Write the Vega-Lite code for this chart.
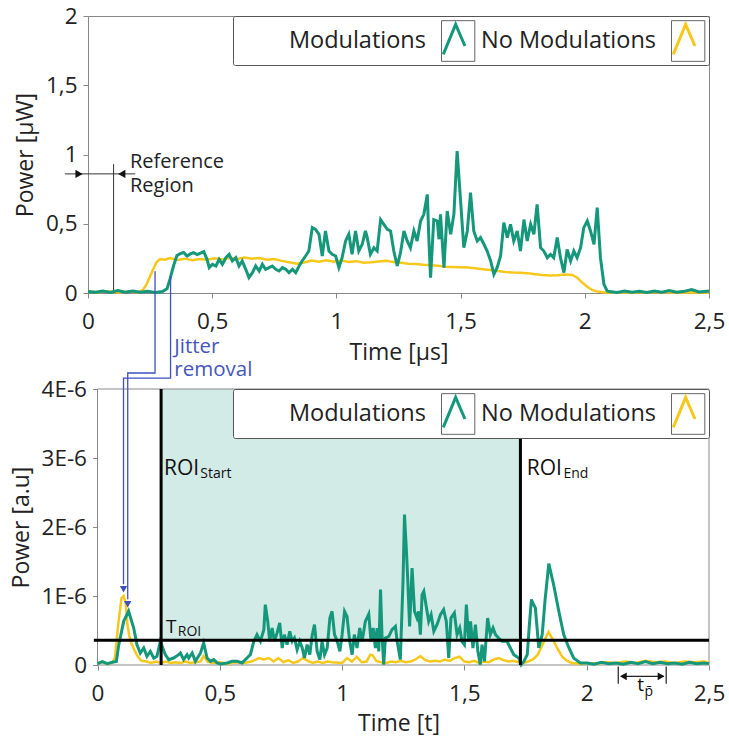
{
"$schema": "https://vega.github.io/schema/vega-lite/v6.json",
"padding": {"left": 10, "top": 4, "right": 0, "bottom": 0},
"bounds": "flush",
"spacing": 96,
"resolve": {"scale": {"color": "independent", "x": "independent", "y": "independent"}, "legend": {"color": "independent"}},
"config": {
  "font": "Open Sans",
  "view": {"stroke": "#888", "strokeWidth": 1},
  "axis": {"grid": false, "domainColor": "#888", "tickColor": "#888", "tickSize": 5, "labelFontSize": 22.5, "labelColor": "#222", "titleFontSize": 23, "titleFontWeight": "normal", "titleColor": "#222", "labelFont": "Open Sans", "titleFont": "Open Sans", "labelOverlap": false},
  "axisX": {"labelPadding": 12, "titlePadding": 9, "labelFlush": false},
  "axisY": {"labelPadding": 6, "titlePadding": 8},
  "text": {"font": "Open Sans"}
},
"datasets": {
  "top": [
{"s":"No Modulations","t":0,"p":0.01},{"s":"No Modulations","t":0.04,"p":0.005},{"s":"No Modulations","t":0.08,"p":0.012},{"s":"No Modulations","t":0.12,"p":0.004},{"s":"No Modulations","t":0.16,"p":0.01},{"s":"No Modulations","t":0.2,"p":0.006},{"s":"No Modulations","t":0.22,"p":0.02},{"s":"No Modulations","t":0.235,"p":0.06},{"s":"No Modulations","t":0.25,"p":0.12},{"s":"No Modulations","t":0.262,"p":0.17},{"s":"No Modulations","t":0.275,"p":0.22},{"s":"No Modulations","t":0.29,"p":0.245},{"s":"No Modulations","t":0.31,"p":0.24},{"s":"No Modulations","t":0.33,"p":0.252},{"s":"No Modulations","t":0.36,"p":0.238},{"s":"No Modulations","t":0.39,"p":0.248},{"s":"No Modulations","t":0.42,"p":0.236},{"s":"No Modulations","t":0.45,"p":0.246},{"s":"No Modulations","t":0.48,"p":0.24},{"s":"No Modulations","t":0.51,"p":0.25},{"s":"No Modulations","t":0.54,"p":0.242},{"s":"No Modulations","t":0.57,"p":0.252},{"s":"No Modulations","t":0.6,"p":0.245},{"s":"No Modulations","t":0.63,"p":0.256},{"s":"No Modulations","t":0.66,"p":0.248},{"s":"No Modulations","t":0.69,"p":0.252},{"s":"No Modulations","t":0.72,"p":0.24},{"s":"No Modulations","t":0.75,"p":0.245},{"s":"No Modulations","t":0.78,"p":0.232},{"s":"No Modulations","t":0.81,"p":0.222},{"s":"No Modulations","t":0.84,"p":0.212},{"s":"No Modulations","t":0.87,"p":0.22},{"s":"No Modulations","t":0.9,"p":0.234},{"s":"No Modulations","t":0.93,"p":0.226},{"s":"No Modulations","t":0.96,"p":0.236},{"s":"No Modulations","t":0.99,"p":0.226},{"s":"No Modulations","t":1.02,"p":0.234},{"s":"No Modulations","t":1.05,"p":0.224},{"s":"No Modulations","t":1.08,"p":0.23},{"s":"No Modulations","t":1.11,"p":0.218},{"s":"No Modulations","t":1.14,"p":0.222},{"s":"No Modulations","t":1.17,"p":0.228},{"s":"No Modulations","t":1.2,"p":0.232},{"s":"No Modulations","t":1.23,"p":0.224},{"s":"No Modulations","t":1.26,"p":0.218},{"s":"No Modulations","t":1.29,"p":0.212},{"s":"No Modulations","t":1.32,"p":0.21},{"s":"No Modulations","t":1.35,"p":0.204},{"s":"No Modulations","t":1.38,"p":0.2},{"s":"No Modulations","t":1.41,"p":0.196},{"s":"No Modulations","t":1.44,"p":0.19},{"s":"No Modulations","t":1.47,"p":0.188},{"s":"No Modulations","t":1.5,"p":0.186},{"s":"No Modulations","t":1.53,"p":0.184},{"s":"No Modulations","t":1.56,"p":0.178},{"s":"No Modulations","t":1.59,"p":0.172},{"s":"No Modulations","t":1.62,"p":0.166},{"s":"No Modulations","t":1.65,"p":0.158},{"s":"No Modulations","t":1.68,"p":0.152},{"s":"No Modulations","t":1.71,"p":0.148},{"s":"No Modulations","t":1.74,"p":0.146},{"s":"No Modulations","t":1.77,"p":0.142},{"s":"No Modulations","t":1.8,"p":0.136},{"s":"No Modulations","t":1.83,"p":0.13},{"s":"No Modulations","t":1.86,"p":0.126},{"s":"No Modulations","t":1.89,"p":0.128},{"s":"No Modulations","t":1.92,"p":0.134},{"s":"No Modulations","t":1.95,"p":0.13},{"s":"No Modulations","t":1.97,"p":0.11},{"s":"No Modulations","t":1.99,"p":0.075},{"s":"No Modulations","t":2.01,"p":0.045},{"s":"No Modulations","t":2.03,"p":0.022},{"s":"No Modulations","t":2.05,"p":0.01},{"s":"No Modulations","t":2.08,"p":0.004},{"s":"No Modulations","t":2.12,"p":0.006},{"s":"No Modulations","t":2.2,"p":0.003},{"s":"No Modulations","t":2.28,"p":0.007},{"s":"No Modulations","t":2.36,"p":0.004},{"s":"No Modulations","t":2.44,"p":0.006},{"s":"No Modulations","t":2.5,"p":0.004},
{"s":"Modulations","t":0,"p":0.01},{"s":"Modulations","t":0.03,"p":0.005},{"s":"Modulations","t":0.06,"p":0.015},{"s":"Modulations","t":0.09,"p":0.004},{"s":"Modulations","t":0.12,"p":0.018},{"s":"Modulations","t":0.15,"p":0.006},{"s":"Modulations","t":0.18,"p":0.014},{"s":"Modulations","t":0.21,"p":0.005},{"s":"Modulations","t":0.24,"p":0.012},{"s":"Modulations","t":0.27,"p":0.004},{"s":"Modulations","t":0.3,"p":0.01},{"s":"Modulations","t":0.318,"p":0.03},{"s":"Modulations","t":0.33,"p":0.1},{"s":"Modulations","t":0.345,"p":0.2},{"s":"Modulations","t":0.358,"p":0.27},{"s":"Modulations","t":0.372,"p":0.285},{"s":"Modulations","t":0.385,"p":0.292},{"s":"Modulations","t":0.399,"p":0.267},{"s":"Modulations","t":0.412,"p":0.282},{"s":"Modulations","t":0.425,"p":0.292},{"s":"Modulations","t":0.44,"p":0.278},{"s":"Modulations","t":0.455,"p":0.29},{"s":"Modulations","t":0.466,"p":0.3},{"s":"Modulations","t":0.479,"p":0.243},{"s":"Modulations","t":0.488,"p":0.183},{"s":"Modulations","t":0.501,"p":0.207},{"s":"Modulations","t":0.515,"p":0.195},{"s":"Modulations","t":0.528,"p":0.243},{"s":"Modulations","t":0.541,"p":0.207},{"s":"Modulations","t":0.555,"p":0.255},{"s":"Modulations","t":0.568,"p":0.279},{"s":"Modulations","t":0.581,"p":0.231},{"s":"Modulations","t":0.595,"p":0.255},{"s":"Modulations","t":0.608,"p":0.195},{"s":"Modulations","t":0.621,"p":0.231},{"s":"Modulations","t":0.635,"p":0.171},{"s":"Modulations","t":0.648,"p":0.111},{"s":"Modulations","t":0.662,"p":0.147},{"s":"Modulations","t":0.675,"p":0.195},{"s":"Modulations","t":0.689,"p":0.159},{"s":"Modulations","t":0.702,"p":0.207},{"s":"Modulations","t":0.715,"p":0.171},{"s":"Modulations","t":0.729,"p":0.183},{"s":"Modulations","t":0.742,"p":0.195},{"s":"Modulations","t":0.756,"p":0.171},{"s":"Modulations","t":0.769,"p":0.159},{"s":"Modulations","t":0.783,"p":0.183},{"s":"Modulations","t":0.796,"p":0.171},{"s":"Modulations","t":0.809,"p":0.147},{"s":"Modulations","t":0.823,"p":0.171},{"s":"Modulations","t":0.836,"p":0.147},{"s":"Modulations","t":0.85,"p":0.195},{"s":"Modulations","t":0.862,"p":0.231},{"s":"Modulations","t":0.876,"p":0.267},{"s":"Modulations","t":0.889,"p":0.303},{"s":"Modulations","t":0.903,"p":0.472},{"s":"Modulations","t":0.916,"p":0.46},{"s":"Modulations","t":0.93,"p":0.424},{"s":"Modulations","t":0.943,"p":0.267},{"s":"Modulations","t":0.956,"p":0.448},{"s":"Modulations","t":0.97,"p":0.303},{"s":"Modulations","t":0.983,"p":0.279},{"s":"Modulations","t":0.997,"p":0.267},{"s":"Modulations","t":1.01,"p":0.183},{"s":"Modulations","t":1.023,"p":0.255},{"s":"Modulations","t":1.037,"p":0.376},{"s":"Modulations","t":1.05,"p":0.424},{"s":"Modulations","t":1.063,"p":0.279},{"s":"Modulations","t":1.077,"p":0.448},{"s":"Modulations","t":1.09,"p":0.303},{"s":"Modulations","t":1.104,"p":0.352},{"s":"Modulations","t":1.117,"p":0.448},{"s":"Modulations","t":1.124,"p":0.4},{"s":"Modulations","t":1.137,"p":0.279},{"s":"Modulations","t":1.151,"p":0.327},{"s":"Modulations","t":1.164,"p":0.303},{"s":"Modulations","t":1.178,"p":0.53},{"s":"Modulations","t":1.191,"p":0.496},{"s":"Modulations","t":1.205,"p":0.46},{"s":"Modulations","t":1.218,"p":0.448},{"s":"Modulations","t":1.231,"p":0.303},{"s":"Modulations","t":1.245,"p":0.195},{"s":"Modulations","t":1.258,"p":0.291},{"s":"Modulations","t":1.272,"p":0.448},{"s":"Modulations","t":1.285,"p":0.376},{"s":"Modulations","t":1.298,"p":0.327},{"s":"Modulations","t":1.312,"p":0.448},{"s":"Modulations","t":1.325,"p":0.376},{"s":"Modulations","t":1.339,"p":0.52},{"s":"Modulations","t":1.352,"p":0.568},{"s":"Modulations","t":1.366,"p":0.712},{"s":"Modulations","t":1.372,"p":0.4},{"s":"Modulations","t":1.379,"p":0.111},{"s":"Modulations","t":1.392,"p":0.53},{"s":"Modulations","t":1.406,"p":0.52},{"s":"Modulations","t":1.413,"p":0.388},{"s":"Modulations","t":1.419,"p":0.568},{"s":"Modulations","t":1.433,"p":0.183},{"s":"Modulations","t":1.446,"p":0.592},{"s":"Modulations","t":1.46,"p":0.424},{"s":"Modulations","t":1.473,"p":0.568},{"s":"Modulations","t":1.486,"p":1.025},{"s":"Modulations","t":1.5,"p":0.664},{"s":"Modulations","t":1.513,"p":0.327},{"s":"Modulations","t":1.527,"p":0.448},{"s":"Modulations","t":1.54,"p":0.724},{"s":"Modulations","t":1.553,"p":0.448},{"s":"Modulations","t":1.567,"p":0.376},{"s":"Modulations","t":1.58,"p":0.4},{"s":"Modulations","t":1.594,"p":0.352},{"s":"Modulations","t":1.607,"p":0.303},{"s":"Modulations","t":1.621,"p":0.231},{"s":"Modulations","t":1.634,"p":0.135},{"s":"Modulations","t":1.647,"p":0.183},{"s":"Modulations","t":1.661,"p":0.267},{"s":"Modulations","t":1.674,"p":0.508},{"s":"Modulations","t":1.688,"p":0.4},{"s":"Modulations","t":1.701,"p":0.496},{"s":"Modulations","t":1.714,"p":0.376},{"s":"Modulations","t":1.728,"p":0.448},{"s":"Modulations","t":1.741,"p":0.303},{"s":"Modulations","t":1.755,"p":0.53},{"s":"Modulations","t":1.768,"p":0.376},{"s":"Modulations","t":1.782,"p":0.496},{"s":"Modulations","t":1.795,"p":0.424},{"s":"Modulations","t":1.808,"p":0.64},{"s":"Modulations","t":1.822,"p":0.327},{"s":"Modulations","t":1.835,"p":0.303},{"s":"Modulations","t":1.849,"p":0.255},{"s":"Modulations","t":1.862,"p":0.279},{"s":"Modulations","t":1.875,"p":0.255},{"s":"Modulations","t":1.889,"p":0.4},{"s":"Modulations","t":1.902,"p":0.255},{"s":"Modulations","t":1.916,"p":0.147},{"s":"Modulations","t":1.929,"p":0.315},{"s":"Modulations","t":1.943,"p":0.231},{"s":"Modulations","t":1.956,"p":0.303},{"s":"Modulations","t":1.969,"p":0.255},{"s":"Modulations","t":1.983,"p":0.327},{"s":"Modulations","t":1.996,"p":0.472},{"s":"Modulations","t":2.01,"p":0.52},{"s":"Modulations","t":2.023,"p":0.448},{"s":"Modulations","t":2.037,"p":0.352},{"s":"Modulations","t":2.05,"p":0.616},{"s":"Modulations","t":2.063,"p":0.255},{"s":"Modulations","t":2.077,"p":0.063},{"s":"Modulations","t":2.09,"p":0.015},{"s":"Modulations","t":2.1,"p":0.01},{"s":"Modulations","t":2.13,"p":0.004},{"s":"Modulations","t":2.16,"p":0.015},{"s":"Modulations","t":2.19,"p":0.005},{"s":"Modulations","t":2.22,"p":0.012},{"s":"Modulations","t":2.25,"p":0.004},{"s":"Modulations","t":2.28,"p":0.015},{"s":"Modulations","t":2.31,"p":0.006},{"s":"Modulations","t":2.34,"p":0.018},{"s":"Modulations","t":2.37,"p":0.005},{"s":"Modulations","t":2.4,"p":0.012},{"s":"Modulations","t":2.43,"p":0.025},{"s":"Modulations","t":2.46,"p":0.008},{"s":"Modulations","t":2.5,"p":0.015}
  ],
  "bottom": [
{"s":"No Modulations","t":0,"p":0.03e-6},{"s":"No Modulations","t":0.02,"p":0.04e-6},{"s":"No Modulations","t":0.04,"p":0.02e-6},{"s":"No Modulations","t":0.06,"p":0.03e-6},{"s":"No Modulations","t":0.071,"p":0.1e-6},{"s":"No Modulations","t":0.085,"p":0.6e-6},{"s":"No Modulations","t":0.098,"p":0.97e-6},{"s":"No Modulations","t":0.107,"p":1.0e-6},{"s":"No Modulations","t":0.115,"p":0.9e-6},{"s":"No Modulations","t":0.122,"p":0.6e-6},{"s":"No Modulations","t":0.13,"p":0.42e-6},{"s":"No Modulations","t":0.14,"p":0.3e-6},{"s":"No Modulations","t":0.15,"p":0.22e-6},{"s":"No Modulations","t":0.16,"p":0.15e-6},{"s":"No Modulations","t":0.17,"p":0.1e-6},{"s":"No Modulations","t":0.18,"p":0.06e-6},{"s":"No Modulations","t":0.2,"p":0.05e-6},{"s":"No Modulations","t":0.22,"p":0.03e-6},{"s":"No Modulations","t":0.24,"p":0.05e-6},{"s":"No Modulations","t":0.26,"p":0.03e-6},{"s":"No Modulations","t":0.28,"p":0.05e-6},{"s":"No Modulations","t":0.3,"p":0.03e-6},{"s":"No Modulations","t":0.32,"p":0.04e-6},{"s":"No Modulations","t":0.34,"p":0.03e-6},{"s":"No Modulations","t":0.36,"p":0.05e-6},{"s":"No Modulations","t":0.38,"p":0.03e-6},{"s":"No Modulations","t":0.4,"p":0.04e-6},{"s":"No Modulations","t":0.42,"p":0.05e-6},{"s":"No Modulations","t":0.434,"p":0.13e-6},{"s":"No Modulations","t":0.45,"p":0.05e-6},{"s":"No Modulations","t":0.47,"p":0.03e-6},{"s":"No Modulations","t":0.5,"p":0.04e-6},{"s":"No Modulations","t":0.53,"p":0.02e-6},{"s":"No Modulations","t":0.56,"p":0.04e-6},{"s":"No Modulations","t":0.6,"p":0.03e-6},{"s":"No Modulations","t":0.63,"p":0.05e-6},{"s":"No Modulations","t":0.66,"p":0.1e-6},{"s":"No Modulations","t":0.68,"p":0.08e-6},{"s":"No Modulations","t":0.7,"p":0.1e-6},{"s":"No Modulations","t":0.72,"p":0.05e-6},{"s":"No Modulations","t":0.74,"p":0.1e-6},{"s":"No Modulations","t":0.76,"p":0.04e-6},{"s":"No Modulations","t":0.78,"p":0.07e-6},{"s":"No Modulations","t":0.8,"p":0.03e-6},{"s":"No Modulations","t":0.82,"p":0.05e-6},{"s":"No Modulations","t":0.84,"p":0.1e-6},{"s":"No Modulations","t":0.86,"p":0.06e-6},{"s":"No Modulations","t":0.88,"p":0.03e-6},{"s":"No Modulations","t":0.9,"p":0.05e-6},{"s":"No Modulations","t":0.92,"p":0.03e-6},{"s":"No Modulations","t":0.94,"p":0.05e-6},{"s":"No Modulations","t":0.96,"p":0.04e-6},{"s":"No Modulations","t":1.0,"p":0.03e-6},{"s":"No Modulations","t":1.02,"p":0.1e-6},{"s":"No Modulations","t":1.04,"p":0.05e-6},{"s":"No Modulations","t":1.06,"p":0.12e-6},{"s":"No Modulations","t":1.08,"p":0.04e-6},{"s":"No Modulations","t":1.1,"p":0.05e-6},{"s":"No Modulations","t":1.115,"p":0.15e-6},{"s":"No Modulations","t":1.125,"p":0.14e-6},{"s":"No Modulations","t":1.14,"p":0.06e-6},{"s":"No Modulations","t":1.16,"p":0.04e-6},{"s":"No Modulations","t":1.18,"p":0.03e-6},{"s":"No Modulations","t":1.2,"p":0.05e-6},{"s":"No Modulations","t":1.22,"p":0.04e-6},{"s":"No Modulations","t":1.24,"p":0.06e-6},{"s":"No Modulations","t":1.26,"p":0.04e-6},{"s":"No Modulations","t":1.28,"p":0.05e-6},{"s":"No Modulations","t":1.3,"p":0.08e-6},{"s":"No Modulations","t":1.32,"p":0.13e-6},{"s":"No Modulations","t":1.34,"p":0.07e-6},{"s":"No Modulations","t":1.36,"p":0.05e-6},{"s":"No Modulations","t":1.38,"p":0.06e-6},{"s":"No Modulations","t":1.4,"p":0.05e-6},{"s":"No Modulations","t":1.42,"p":0.08e-6},{"s":"No Modulations","t":1.44,"p":0.06e-6},{"s":"No Modulations","t":1.46,"p":0.1e-6},{"s":"No Modulations","t":1.48,"p":0.12e-6},{"s":"No Modulations","t":1.5,"p":0.05e-6},{"s":"No Modulations","t":1.52,"p":0.04e-6},{"s":"No Modulations","t":1.54,"p":0.06e-6},{"s":"No Modulations","t":1.56,"p":0.03e-6},{"s":"No Modulations","t":1.58,"p":0.05e-6},{"s":"No Modulations","t":1.6,"p":0.04e-6},{"s":"No Modulations","t":1.62,"p":0.08e-6},{"s":"No Modulations","t":1.64,"p":0.1e-6},{"s":"No Modulations","t":1.66,"p":0.07e-6},{"s":"No Modulations","t":1.68,"p":0.05e-6},{"s":"No Modulations","t":1.7,"p":0.06e-6},{"s":"No Modulations","t":1.72,"p":0.04e-6},{"s":"No Modulations","t":1.74,"p":0.03e-6},{"s":"No Modulations","t":1.76,"p":0.05e-6},{"s":"No Modulations","t":1.78,"p":0.08e-6},{"s":"No Modulations","t":1.8,"p":0.15e-6},{"s":"No Modulations","t":1.82,"p":0.3e-6},{"s":"No Modulations","t":1.844,"p":0.48e-6},{"s":"No Modulations","t":1.86,"p":0.38e-6},{"s":"No Modulations","t":1.88,"p":0.24e-6},{"s":"No Modulations","t":1.9,"p":0.12e-6},{"s":"No Modulations","t":1.92,"p":0.06e-6},{"s":"No Modulations","t":1.94,"p":0.03e-6},{"s":"No Modulations","t":1.97,"p":0.02e-6},{"s":"No Modulations","t":2.0,"p":0.03e-6},{"s":"No Modulations","t":2.04,"p":0.02e-6},{"s":"No Modulations","t":2.08,"p":0.04e-6},{"s":"No Modulations","t":2.12,"p":0.03e-6},{"s":"No Modulations","t":2.16,"p":0.05e-6},{"s":"No Modulations","t":2.2,"p":0.03e-6},{"s":"No Modulations","t":2.24,"p":0.06e-6},{"s":"No Modulations","t":2.28,"p":0.04e-6},{"s":"No Modulations","t":2.32,"p":0.05e-6},{"s":"No Modulations","t":2.36,"p":0.03e-6},{"s":"No Modulations","t":2.4,"p":0.05e-6},{"s":"No Modulations","t":2.44,"p":0.04e-6},{"s":"No Modulations","t":2.48,"p":0.05e-6},{"s":"No Modulations","t":2.5,"p":0.03e-6},
{"s":"Modulations","t":0,"p":0.02e-6},{"s":"Modulations","t":0.02,"p":0.05e-6},{"s":"Modulations","t":0.04,"p":0.02e-6},{"s":"Modulations","t":0.06,"p":0.04e-6},{"s":"Modulations","t":0.077,"p":0.05e-6},{"s":"Modulations","t":0.087,"p":0.295e-6},{"s":"Modulations","t":0.107,"p":0.633e-6},{"s":"Modulations","t":0.127,"p":0.78e-6},{"s":"Modulations","t":0.148,"p":0.536e-6},{"s":"Modulations","t":0.161,"p":0.295e-6},{"s":"Modulations","t":0.175,"p":0.174e-6},{"s":"Modulations","t":0.189,"p":0.247e-6},{"s":"Modulations","t":0.202,"p":0.126e-6},{"s":"Modulations","t":0.216,"p":0.198e-6},{"s":"Modulations","t":0.23,"p":0.1e-6},{"s":"Modulations","t":0.243,"p":0.126e-6},{"s":"Modulations","t":0.257,"p":0.343e-6},{"s":"Modulations","t":0.277,"p":0.15e-6},{"s":"Modulations","t":0.291,"p":0.078e-6},{"s":"Modulations","t":0.311,"p":0.101e-6},{"s":"Modulations","t":0.332,"p":0.15e-6},{"s":"Modulations","t":0.339,"p":0.174e-6},{"s":"Modulations","t":0.352,"p":0.078e-6},{"s":"Modulations","t":0.366,"p":0.15e-6},{"s":"Modulations","t":0.373,"p":0.101e-6},{"s":"Modulations","t":0.387,"p":0.174e-6},{"s":"Modulations","t":0.4,"p":0.053e-6},{"s":"Modulations","t":0.421,"p":0.174e-6},{"s":"Modulations","t":0.434,"p":0.319e-6},{"s":"Modulations","t":0.448,"p":0.101e-6},{"s":"Modulations","t":0.462,"p":0.053e-6},{"s":"Modulations","t":0.475,"p":0.078e-6},{"s":"Modulations","t":0.489,"p":0.03e-6},{"s":"Modulations","t":0.502,"p":0.015e-6},{"s":"Modulations","t":0.53,"p":0.03e-6},{"s":"Modulations","t":0.55,"p":0.053e-6},{"s":"Modulations","t":0.571,"p":0.053e-6},{"s":"Modulations","t":0.591,"p":0.03e-6},{"s":"Modulations","t":0.611,"p":0.101e-6},{"s":"Modulations","t":0.625,"p":0.15e-6},{"s":"Modulations","t":0.639,"p":0.343e-6},{"s":"Modulations","t":0.652,"p":0.44e-6},{"s":"Modulations","t":0.666,"p":0.343e-6},{"s":"Modulations","t":0.68,"p":0.512e-6},{"s":"Modulations","t":0.686,"p":0.875e-6},{"s":"Modulations","t":0.696,"p":0.633e-6},{"s":"Modulations","t":0.704,"p":0.343e-6},{"s":"Modulations","t":0.714,"p":0.536e-6},{"s":"Modulations","t":0.723,"p":0.343e-6},{"s":"Modulations","t":0.734,"p":0.464e-6},{"s":"Modulations","t":0.745,"p":0.609e-6},{"s":"Modulations","t":0.755,"p":0.246e-6},{"s":"Modulations","t":0.764,"p":0.44e-6},{"s":"Modulations","t":0.775,"p":0.295e-6},{"s":"Modulations","t":0.786,"p":0.488e-6},{"s":"Modulations","t":0.796,"p":0.343e-6},{"s":"Modulations","t":0.805,"p":0.391e-6},{"s":"Modulations","t":0.816,"p":0.222e-6},{"s":"Modulations","t":0.827,"p":0.343e-6},{"s":"Modulations","t":0.837,"p":0.246e-6},{"s":"Modulations","t":0.846,"p":0.101e-6},{"s":"Modulations","t":0.857,"p":0.295e-6},{"s":"Modulations","t":0.868,"p":0.15e-6},{"s":"Modulations","t":0.877,"p":0.416e-6},{"s":"Modulations","t":0.887,"p":0.585e-6},{"s":"Modulations","t":0.898,"p":0.198e-6},{"s":"Modulations","t":0.909,"p":0.078e-6},{"s":"Modulations","t":0.918,"p":0.343e-6},{"s":"Modulations","t":0.928,"p":0.15e-6},{"s":"Modulations","t":0.939,"p":0.246e-6},{"s":"Modulations","t":0.95,"p":0.681e-6},{"s":"Modulations","t":0.959,"p":0.778e-6},{"s":"Modulations","t":0.969,"p":0.44e-6},{"s":"Modulations","t":0.98,"p":0.343e-6},{"s":"Modulations","t":0.991,"p":0.198e-6},{"s":"Modulations","t":1.0,"p":0.44e-6},{"s":"Modulations","t":1.01,"p":0.778e-6},{"s":"Modulations","t":1.02,"p":0.705e-6},{"s":"Modulations","t":1.031,"p":0.343e-6},{"s":"Modulations","t":1.041,"p":0.15e-6},{"s":"Modulations","t":1.05,"p":0.44e-6},{"s":"Modulations","t":1.061,"p":0.246e-6},{"s":"Modulations","t":1.072,"p":0.536e-6},{"s":"Modulations","t":1.082,"p":0.343e-6},{"s":"Modulations","t":1.095,"p":0.633e-6},{"s":"Modulations","t":1.109,"p":0.74e-6},{"s":"Modulations","t":1.118,"p":0.343e-6},{"s":"Modulations","t":1.127,"p":0.536e-6},{"s":"Modulations","t":1.136,"p":0.246e-6},{"s":"Modulations","t":1.143,"p":0.536e-6},{"s":"Modulations","t":1.15,"p":0.198e-6},{"s":"Modulations","t":1.157,"p":1.092e-6},{"s":"Modulations","t":1.163,"p":0.44e-6},{"s":"Modulations","t":1.17,"p":0.005e-6},{"s":"Modulations","t":1.177,"p":0.391e-6},{"s":"Modulations","t":1.191,"p":0.416e-6},{"s":"Modulations","t":1.204,"p":0.512e-6},{"s":"Modulations","t":1.218,"p":0.56e-6},{"s":"Modulations","t":1.225,"p":0.343e-6},{"s":"Modulations","t":1.238,"p":0.078e-6},{"s":"Modulations","t":1.249,"p":1.213e-6},{"s":"Modulations","t":1.255,"p":2.179e-6},{"s":"Modulations","t":1.263,"p":1.648e-6},{"s":"Modulations","t":1.268,"p":1.261e-6},{"s":"Modulations","t":1.276,"p":0.56e-6},{"s":"Modulations","t":1.286,"p":1.406e-6},{"s":"Modulations","t":1.296,"p":0.778e-6},{"s":"Modulations","t":1.306,"p":0.681e-6},{"s":"Modulations","t":1.313,"p":0.778e-6},{"s":"Modulations","t":1.32,"p":0.44e-6},{"s":"Modulations","t":1.327,"p":1.02e-6},{"s":"Modulations","t":1.334,"p":1.068e-6},{"s":"Modulations","t":1.345,"p":0.826e-6},{"s":"Modulations","t":1.354,"p":0.633e-6},{"s":"Modulations","t":1.364,"p":0.729e-6},{"s":"Modulations","t":1.375,"p":0.488e-6},{"s":"Modulations","t":1.388,"p":0.585e-6},{"s":"Modulations","t":1.402,"p":0.729e-6},{"s":"Modulations","t":1.415,"p":0.802e-6},{"s":"Modulations","t":1.426,"p":0.633e-6},{"s":"Modulations","t":1.436,"p":0.101e-6},{"s":"Modulations","t":1.445,"p":0.681e-6},{"s":"Modulations","t":1.459,"p":0.754e-6},{"s":"Modulations","t":1.47,"p":0.44e-6},{"s":"Modulations","t":1.481,"p":0.536e-6},{"s":"Modulations","t":1.49,"p":0.343e-6},{"s":"Modulations","t":1.5,"p":0.295e-6},{"s":"Modulations","t":1.508,"p":0.875e-6},{"s":"Modulations","t":1.518,"p":0.343e-6},{"s":"Modulations","t":1.525,"p":0.633e-6},{"s":"Modulations","t":1.535,"p":0.246e-6},{"s":"Modulations","t":1.545,"p":0.585e-6},{"s":"Modulations","t":1.555,"p":0.198e-6},{"s":"Modulations","t":1.565,"p":0.005e-6},{"s":"Modulations","t":1.572,"p":0.295e-6},{"s":"Modulations","t":1.582,"p":0.053e-6},{"s":"Modulations","t":1.595,"p":0.681e-6},{"s":"Modulations","t":1.606,"p":0.44e-6},{"s":"Modulations","t":1.617,"p":0.536e-6},{"s":"Modulations","t":1.627,"p":0.44e-6},{"s":"Modulations","t":1.64,"p":0.391e-6},{"s":"Modulations","t":1.654,"p":0.343e-6},{"s":"Modulations","t":1.674,"p":0.343e-6},{"s":"Modulations","t":1.688,"p":0.246e-6},{"s":"Modulations","t":1.702,"p":0.15e-6},{"s":"Modulations","t":1.722,"p":0.101e-6},{"s":"Modulations","t":1.732,"p":0.005e-6},{"s":"Modulations","t":1.743,"p":0.053e-6},{"s":"Modulations","t":1.757,"p":0.15e-6},{"s":"Modulations","t":1.766,"p":0.6e-6},{"s":"Modulations","t":1.774,"p":0.95e-6},{"s":"Modulations","t":1.782,"p":0.88e-6},{"s":"Modulations","t":1.79,"p":0.83e-6},{"s":"Modulations","t":1.804,"p":0.25e-6},{"s":"Modulations","t":1.818,"p":0.44e-6},{"s":"Modulations","t":1.83,"p":0.95e-6},{"s":"Modulations","t":1.845,"p":1.47e-6},{"s":"Modulations","t":1.865,"p":1.16e-6},{"s":"Modulations","t":1.886,"p":0.78e-6},{"s":"Modulations","t":1.906,"p":0.44e-6},{"s":"Modulations","t":1.927,"p":0.25e-6},{"s":"Modulations","t":1.947,"p":0.1e-6},{"s":"Modulations","t":1.974,"p":0.03e-6},{"s":"Modulations","t":2.0,"p":0.03e-6},{"s":"Modulations","t":2.03,"p":0.01e-6},{"s":"Modulations","t":2.06,"p":0.04e-6},{"s":"Modulations","t":2.09,"p":0.02e-6},{"s":"Modulations","t":2.12,"p":0.03e-6},{"s":"Modulations","t":2.15,"p":0.01e-6},{"s":"Modulations","t":2.18,"p":0.04e-6},{"s":"Modulations","t":2.21,"p":0.02e-6},{"s":"Modulations","t":2.24,"p":0.05e-6},{"s":"Modulations","t":2.27,"p":0.02e-6},{"s":"Modulations","t":2.3,"p":0.04e-6},{"s":"Modulations","t":2.33,"p":0.02e-6},{"s":"Modulations","t":2.36,"p":0.03e-6},{"s":"Modulations","t":2.39,"p":0.01e-6},{"s":"Modulations","t":2.42,"p":0.04e-6},{"s":"Modulations","t":2.45,"p":0.02e-6},{"s":"Modulations","t":2.48,"p":0.03e-6},{"s":"Modulations","t":2.5,"p":0.02e-6}
  ]
},
"vconcat": [
{
  "width": 621, "height": 277,
  "encoding": {
    "x": {"field": "t", "type": "quantitative", "scale": {"domain": [0, 2.5], "nice": false}, "axis": {"title": "Time [µs]", "values": [0, 0.5, 1, 1.5, 2, 2.5], "labelExpr": "replace(format(datum.value, '~g'), '.', ',')"}},
    "y": {"field": "p", "type": "quantitative", "scale": {"domain": [0, 2], "nice": false}, "axis": {"title": "Power [µW]", "values": [0, 0.5, 1, 1.5, 2], "labelExpr": "replace(format(datum.value, '~g'), '.', ',')"}}
  },
  "layer": [
    {"data": {"values": [{"t": 0.103, "t2": 0.103, "p": 0, "p2": 0.93}, {"t": -0.093, "t2": 0.19, "p": 0.86, "p2": 0.86}]},
     "mark": {"type": "rule", "color": "#333", "strokeWidth": 1},
     "encoding": {"x2": {"field": "t2"}, "y2": {"field": "p2"}}},
    {"data": {"values": [{"t": -0.036, "p": 0.86}]},
     "mark": {"type": "point", "shape": "triangle-right", "filled": true, "color": "#111", "opacity": 1, "size": 70}},
    {"data": {"values": [{"t": 0.136, "p": 0.86}]},
     "mark": {"type": "point", "shape": "triangle-left", "filled": true, "color": "#111", "opacity": 1, "size": 70}},
    {"data": {"values": [{"t": 0.169, "p": 0.946, "label": "Reference"}, {"t": 0.169, "p": 0.773, "label": "Region"}]},
     "mark": {"type": "text", "align": "left", "baseline": "middle", "fontSize": 20, "color": "#222"},
     "encoding": {"text": {"field": "label"}}},
    {"data": {"name": "top"}, "transform": [{"filter": "datum.s == 'No Modulations'"}],
     "mark": {"type": "line", "strokeWidth": 2.5, "interpolate": "linear"},
     "encoding": {"color": {"field": "s", "type": "nominal", "scale": {"domain": ["Modulations", "No Modulations"], "range": ["#14977a", "#f7c81c"]},
       "legend": {"orient": "top-right", "offset": 0, "direction": "horizontal", "title": "\u00a0", "titleOrient": "left", "titleFontSize": 8, "titlePadding": 204, "padding": 4, "strokeColor": "#555", "fillColor": "#fff", "cornerRadius": 2, "labelFontSize": 23.5, "labelColor": "#222", "labelAlign": "right", "labelBaseline": "middle", "labelOffset": -49, "labelLimit": 400, "symbolType": "M-0.59,0.72L0.06,-0.86L0.55,0.28M0.7,0", "symbolSize": 1444, "symbolStrokeWidth": 3, "symbolOffset": -7, "symbolFillColor": "transparent", "columnPadding": 5,
         "encode": {"entries": {"update": {"width": {"value": 27}, "height": {"value": 38}, "stroke": {"value": "#666"}, "strokeWidth": {"value": 1}}}}}}}},
    {"data": {"name": "top"}, "transform": [{"filter": "datum.s == 'Modulations'"}],
     "mark": {"type": "line", "strokeWidth": 3},
     "encoding": {"color": {"field": "s", "type": "nominal", "scale": {"domain": ["Modulations", "No Modulations"], "range": ["#14977a", "#f7c81c"]}}}}
  ]
},
{
  "width": 621, "height": 276,
  "view": {"stroke": null},
  "encoding": {
    "x": {"field": "t", "type": "quantitative", "scale": {"domain": [-0.0389, 2.5], "nice": false, "zero": false}, "axis": {"title": "Time [t]", "domain": false, "labelPadding": 12, "titlePadding": 8, "values": [0, 0.5, 1, 1.5, 2, 2.5], "labelExpr": "replace(format(datum.value, '~g'), '.', ',')"}},
    "y": {"field": "p", "type": "quantitative", "scale": {"domain": [0, 4e-6], "nice": false}, "axis": {"title": "Power [a.u]", "domain": false, "offset": -9.5, "values": [0, 1e-6, 2e-6, 3e-6, 4e-6], "labelExpr": "datum.value == 0 ? '0' : round(datum.value * 1e6) + 'E-6'"}}
  },
  "layer": [
    {"data": {"values": [{"t": 0.26, "t2": 1.729, "p": 0.36e-6, "p2": 4e-6}]},
     "mark": {"type": "rect", "color": "#d3ebe6"},
     "encoding": {"x2": {"field": "t2"}, "y2": {"field": "p2"}}},
    {"data": {"values": [{"t": 0, "t2": 0, "p": 0, "p2": 4e-6}, {"t": 2.5, "t2": 2.5, "p": 0, "p2": 4e-6}, {"t": 0, "t2": 2.5, "p": 0, "p2": 0}, {"t": 0, "t2": 2.5, "p": 4e-6, "p2": 4e-6}]},
     "mark": {"type": "rule", "color": "#888", "strokeWidth": 1},
     "encoding": {"x2": {"field": "t2"}, "y2": {"field": "p2"}}},
    {"data": {"name": "bottom"}, "transform": [{"filter": "datum.s == 'No Modulations'"}],
     "mark": {"type": "line", "strokeWidth": 2.5},
     "encoding": {"color": {"field": "s", "type": "nominal", "scale": {"domain": ["Modulations", "No Modulations"], "range": ["#14977a", "#f7c81c"]},
       "legend": {"orient": "top-right", "offset": 0, "direction": "horizontal", "title": "\u00a0", "titleOrient": "left", "titleFontSize": 8, "titlePadding": 204, "padding": 4, "strokeColor": "#555", "fillColor": "#fff", "cornerRadius": 2, "labelFontSize": 23.5, "labelColor": "#222", "labelAlign": "right", "labelBaseline": "middle", "labelOffset": -49, "labelLimit": 400, "symbolType": "M-0.59,0.72L0.06,-0.86L0.55,0.28M0.7,0", "symbolSize": 1444, "symbolStrokeWidth": 3, "symbolOffset": -7, "symbolFillColor": "transparent", "columnPadding": 5,
         "encode": {"entries": {"update": {"width": {"value": 27}, "height": {"value": 38}, "stroke": {"value": "#666"}, "strokeWidth": {"value": 1}}}}}}}},
    {"data": {"name": "bottom"}, "transform": [{"filter": "datum.s == 'Modulations'"}],
     "mark": {"type": "line", "strokeWidth": 3},
     "encoding": {"color": {"field": "s", "type": "nominal", "scale": {"domain": ["Modulations", "No Modulations"], "range": ["#14977a", "#f7c81c"]}}}},
    {"data": {"values": [{"t": 0.26, "t2": 0.26, "p": 0, "p2": 4e-6}, {"t": 1.729, "t2": 1.729, "p": 0, "p2": 4e-6}, {"t": -0.015, "t2": 2.5, "p": 0.36e-6, "p2": 0.36e-6}]},
     "mark": {"type": "rule", "color": "#000", "strokeWidth": 3},
     "encoding": {"x2": {"field": "t2"}, "y2": {"field": "p2"}}},
    {"data": {"values": [{"t": 0.272, "p": 2.84e-6, "label": "ROI"}, {"t": 1.755, "p": 2.84e-6, "label": "ROI"}]},
     "mark": {"type": "text", "align": "left", "baseline": "middle", "fontSize": 21, "color": "#111"},
     "encoding": {"text": {"field": "label"}}},
    {"data": {"values": [{"t": 0.28, "p": 0.546e-6, "label": "T"}, {"t": 2.207, "p": -0.294e-6, "label": "t"}]},
     "mark": {"type": "text", "align": "left", "baseline": "middle", "fontSize": 19, "color": "#111"},
     "encoding": {"text": {"field": "label"}}},
    {"data": {"values": [{"t": 0.42, "p": 2.764e-6, "label": "Start"}, {"t": 1.905, "p": 2.764e-6, "label": "End"}, {"t": 0.328, "p": 0.474e-6, "label": "ROI"}, {"t": 2.236, "p": -0.395e-6, "label": "p\u0304"}]},
     "mark": {"type": "text", "align": "left", "baseline": "middle", "fontSize": 14, "color": "#111"},
     "encoding": {"text": {"field": "label"}}},
    {"data": {"values": [{"t": 2.129, "t2": 2.129, "p": -0.02e-6, "p2": -0.27e-6}, {"t": 2.325, "t2": 2.325, "p": -0.02e-6, "p2": -0.27e-6}, {"t": 2.14, "t2": 2.315, "p": -0.164e-6, "p2": -0.164e-6}]},
     "mark": {"type": "rule", "color": "#222", "strokeWidth": 1.2},
     "encoding": {"x2": {"field": "t2"}, "y2": {"field": "p2"}}},
    {"data": {"values": [{"t": 2.15, "p": -0.164e-6}]},
     "mark": {"type": "point", "shape": "triangle-left", "filled": true, "color": "#111", "opacity": 1, "size": 60}},
    {"data": {"values": [{"t": 2.304, "p": -0.164e-6}]},
     "mark": {"type": "point", "shape": "triangle-right", "filled": true, "color": "#111", "opacity": 1, "size": 60}},
    {"data": {"values": [
      {"path": "A", "o": 1, "t": 0.2352, "p": 5.706e-6}, {"path": "A", "o": 2, "t": 0.2352, "p": 4.232e-6}, {"path": "A", "o": 3, "t": 0.1235, "p": 4.232e-6}, {"path": "A", "o": 4, "t": 0.1235, "p": 0.952e-6},
      {"path": "B", "o": 1, "t": 0.2986, "p": 5.633e-6}, {"path": "B", "o": 2, "t": 0.2986, "p": 4.159e-6}, {"path": "B", "o": 3, "t": 0.1063, "p": 4.159e-6}, {"path": "B", "o": 4, "t": 0.1063, "p": 1.17e-6}]},
     "mark": {"type": "line", "color": "#3f51bd", "strokeWidth": 1.3},
     "encoding": {"detail": {"field": "path"}, "order": {"field": "o"}}},
    {"data": {"values": [{"t": 0.1235, "p": 0.88e-6}, {"t": 0.1063, "p": 1.097e-6}]},
     "mark": {"type": "point", "shape": "triangle-down", "filled": true, "color": "#3f51bd", "opacity": 1, "size": 55}},
    {"data": {"values": [{"t": 0.314, "p": 4.61e-6, "label": "Jitter"}, {"t": 0.314, "p": 4.28e-6, "label": "removal"}]},
     "mark": {"type": "text", "align": "left", "baseline": "middle", "fontSize": 20.5, "color": "#4556bb"},
     "encoding": {"text": {"field": "label"}}}
  ]
}
]
}
